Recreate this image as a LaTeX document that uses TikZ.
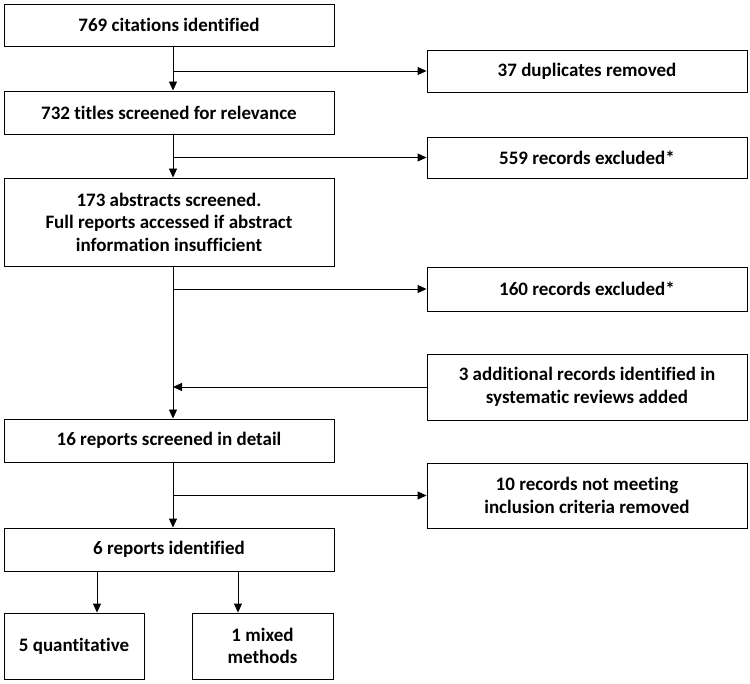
\documentclass[tikz,border=0pt]{standalone}
\usepackage{fontspec}
\setmainfont{Carlito}[Ligatures=NoCommon]
\usepackage{tikz}
\usetikzlibrary{arrows.meta}

\begin{document}
\begin{tikzpicture}[x=1pt,y=-1pt,
		every node/.style={font=\fontsize{19}{22.5}\selectfont\bfseries},
		mainbox/.style={rectangle,draw,line width=0.9pt,align=center,inner sep=3pt,minimum width=330pt},
		sidebox/.style={rectangle,draw,line width=0.9pt,align=center,inner sep=3pt,minimum width=320pt},
		leafbox/.style={rectangle,draw,line width=0.9pt,align=center,inner sep=3pt,minimum width=140pt,minimum height=66pt},
		flow/.style={line width=0.9pt,-{Triangle[length=9pt,width=8pt]}}
		]
		\useasboundingbox (0,0) rectangle (750,684);
		\coordinate (spine) at (173,0);
		% main column
		\node (cit) [mainbox,minimum height=42pt] at (169,25) {769 citations identified};
		\node (tit) [mainbox,minimum height=43pt] at (169,112.5) {732 titles screened for relevance};
		\node (abs) [mainbox,minimum height=88pt] at (169,222) {173 abstracts screened.\\ Full reports accessed if abstract\\ information insufficient};
		\node (det) [mainbox,minimum height=43pt] at (169,440.5) {16 reports screened in detail};
		\node (rep) [mainbox,minimum height=43pt] at (169,549.5) {6 reports identified};
		% side column
		\node (dup) [sidebox,minimum height=42pt] at (587,71) {37 duplicates removed};
		\node (exa) [sidebox,minimum height=41pt] at (587,157.5) {559 records excluded*};
		\node (exb) [sidebox,minimum height=44pt] at (587,289) {160 records excluded*};
		\node (add) [sidebox,minimum height=66pt] at (587,387) {3 additional records identified in\\ systematic reviews added};
		\node (exc) [sidebox,minimum height=65pt] at (587,495.5) {10 records not meeting\\ inclusion criteria removed};
		% study types
		\node (qua) [leafbox] at (74,646) {5 quantitative};
		\node (mix) [leafbox,minimum width=141pt] at (262.5,646) {1 mixed\\ methods};
		% connectors
		\draw[flow] (cit.south -| spine) -- (tit.north -| spine);
		\draw[flow] (tit.south -| spine) -- (abs.north -| spine);
		\draw[flow] (abs.south -| spine) -- (det.north -| spine);
		\draw[flow] (det.south -| spine) -- (rep.north -| spine);
		\draw[flow] (spine |- dup.west) -- (dup.west);
		\draw[flow] (spine |- exa.west) -- (exa.west);
		\draw[flow] (spine |- exb.west) -- (exb.west);
		\draw[flow] (add.west) -- (add.west -| spine);
		\draw[flow] (spine |- exc.west) -- (exc.west);
		\draw[flow] (rep.south -| 97,0) -- (qua.north -| 97,0);
		\draw[flow] (rep.south -| 238,0) -- (mix.north -| 238,0);
\end{tikzpicture}
\end{document}
